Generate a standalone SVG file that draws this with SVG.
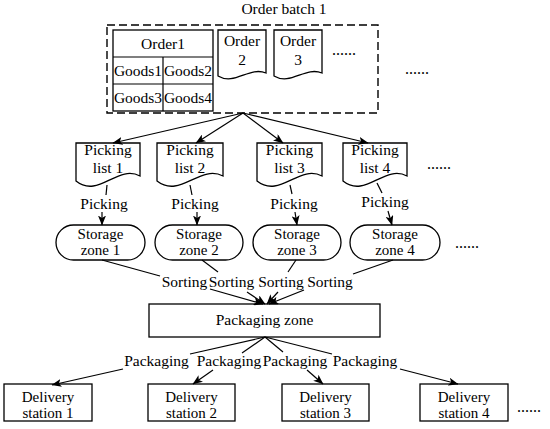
<svg xmlns="http://www.w3.org/2000/svg" width="550" height="429" viewBox="0 0 550 429">
<style>
  text { font-family: "Liberation Serif", "Times New Roman", serif; font-size: 15.5px; fill: #000; text-anchor: middle; }
  .two { font-size: 15px; }
  .shape { fill: #fff; stroke: #000; stroke-width: 1.3; }
  .conn { fill: none; stroke: #000; stroke-width: 1.2; }
  .arr { fill: none; stroke: #000; stroke-width: 1.2; marker-end: url(#ah); }
  .dots { font-size: 16px; text-anchor: start; }
</style>
<defs>
  <marker id="ah" markerWidth="10" markerHeight="8" refX="9.5" refY="4" orient="auto" markerUnits="userSpaceOnUse">
    <path d="M0,0 L10,4 L0,8 L2.5,4 Z" fill="#000"/>
  </marker>
</defs>
<rect width="550" height="429" fill="#fff"/>

<g id="batch">
  <text x="284" y="14">Order batch 1</text>
  <rect x="107" y="25" width="271" height="88" fill="none" stroke="#000" stroke-width="1.4" stroke-dasharray="8,4"/>
  <text class="dots" x="405" y="74">......</text>
</g>

<g id="order1">
  <rect class="shape" x="113" y="30" width="100" height="81" stroke-width="1.6"/>
  <line class="conn" x1="113" y1="57" x2="213" y2="57"/>
  <line class="conn" x1="113" y1="84" x2="213" y2="84"/>
  <line class="conn" x1="163" y1="57" x2="163" y2="111"/>
  <text x="163" y="49">Order1</text>
  <text x="138" y="76">Goods1</text>
  <text x="188" y="76">Goods2</text>
  <text x="138" y="103">Goods3</text>
  <text x="188" y="103">Goods4</text>
</g>

<g id="order2">
  <path class="shape" d="M218,30 H266 V73 C249.2,66 234.8,86 218,76 Z"/>
  <text x="242" y="46">Order</text>
  <text x="242" y="65">2</text>
</g>
<g id="order3">
  <path class="shape" d="M274,30 H322 V73 C305.2,66 290.8,86 274,76 Z"/>
  <text x="298" y="46">Order</text>
  <text x="298" y="65">3</text>
  <text class="dots" x="332" y="55">......</text>
</g>

<g id="list1">
  <path class="shape" d="M76,143 H140 V176 C117.6,164 98.4,199 76,181 Z"/>
  <text x="108" y="155">Picking</text>
  <text x="108" y="173">list 1</text>
</g>
<g id="list2">
  <path class="shape" d="M157,143 H223 V176 C199.9,164 180.1,199 157,181 Z"/>
  <text x="190" y="155">Picking</text>
  <text x="190" y="173">list 2</text>
</g>
<g id="list3">
  <path class="shape" d="M257,143 H322 V176 C299.25,164 279.75,199 257,181 Z"/>
  <text x="289.5" y="155">Picking</text>
  <text x="289.5" y="173">list 3</text>
</g>
<g id="list4">
  <path class="shape" d="M343,143 H407 V176 C384.6,164 365.4,199 343,181 Z"/>
  <text x="375" y="155">Picking</text>
  <text x="375" y="173">list 4</text>
  <text class="dots" x="427" y="169">......</text>
</g>

<g id="zone1">
  <rect class="shape" x="56" y="225" width="89" height="35" rx="17.5"/>
  <text class="two" x="100.5" y="239">Storage</text>
  <text class="two" x="100.5" y="255">zone 1</text>
</g>
<g id="zone2">
  <rect class="shape" x="155" y="225" width="88" height="35" rx="17.5"/>
  <text class="two" x="199" y="239">Storage</text>
  <text class="two" x="199" y="255">zone 2</text>
</g>
<g id="zone3">
  <rect class="shape" x="253" y="225" width="88" height="35" rx="17.5"/>
  <text class="two" x="297" y="239">Storage</text>
  <text class="two" x="297" y="255">zone 3</text>
</g>
<g id="zone4">
  <rect class="shape" x="350" y="225" width="90" height="35" rx="17.5"/>
  <text class="two" x="395" y="239">Storage</text>
  <text class="two" x="395" y="255">zone 4</text>
  <text class="dots" x="455" y="248">......</text>
</g>

<g id="packaging">
  <rect class="shape" x="149" y="304" width="231" height="33"/>
  <text x="264.5" y="325">Packaging zone</text>
</g>

<g id="station1">
  <rect class="shape" x="4" y="384" width="88" height="37"/>
  <text class="two" x="48" y="402">Delivery</text>
  <text class="two" x="48" y="418">station 1</text>
</g>
<g id="station2">
  <rect class="shape" x="148" y="384" width="87" height="37"/>
  <text class="two" x="191.5" y="402">Delivery</text>
  <text class="two" x="191.5" y="418">station 2</text>
</g>
<g id="station3">
  <rect class="shape" x="282" y="384" width="87" height="37"/>
  <text class="two" x="325.5" y="402">Delivery</text>
  <text class="two" x="325.5" y="418">station 3</text>
</g>
<g id="station4">
  <rect class="shape" x="420" y="384" width="88" height="37"/>
  <text class="two" x="464" y="402">Delivery</text>
  <text class="two" x="464" y="418">station 4</text>
  <text class="dots" x="517" y="412">......</text>
</g>

<g id="connectors">
  <line class="arr" x1="243" y1="113" x2="113" y2="143"/>
  <line class="arr" x1="243" y1="113" x2="196" y2="143"/>
  <line class="arr" x1="243" y1="113" x2="283" y2="143"/>
  <line class="arr" x1="243" y1="113" x2="368" y2="143"/>

  <line class="conn" x1="107" y1="185" x2="106" y2="195"/>
  <line class="conn" x1="190" y1="185" x2="192" y2="195"/>
  <line class="conn" x1="290" y1="185" x2="292" y2="194"/>
  <line class="conn" x1="377" y1="183" x2="382" y2="193"/>
  <text x="104" y="209">Picking</text>
  <text x="195" y="209">Picking</text>
  <text x="294" y="209">Picking</text>
  <text x="385" y="207">Picking</text>
  <line class="arr" x1="102" y1="212" x2="102" y2="225"/>
  <line class="arr" x1="197" y1="212" x2="197" y2="225"/>
  <line class="arr" x1="295" y1="212" x2="297" y2="225"/>
  <line class="arr" x1="388" y1="211" x2="392" y2="225"/>

  <line class="conn" x1="102" y1="260" x2="160" y2="276"/>
  <line class="conn" x1="202" y1="260" x2="218" y2="272"/>
  <line class="conn" x1="296" y1="260" x2="288" y2="272"/>
  <line class="conn" x1="393" y1="260" x2="353" y2="274"/>
  <text x="184.5" y="287">Sorting</text>
  <text x="231.5" y="287">Sorting</text>
  <text x="281" y="287">Sorting</text>
  <text x="330" y="287">Sorting</text>
  <line class="arr" x1="210" y1="289" x2="263" y2="304"/>
  <line class="arr" x1="247" y1="292" x2="265" y2="304"/>
  <line class="arr" x1="278" y1="292" x2="267" y2="304"/>
  <line class="arr" x1="304" y1="290" x2="269" y2="304"/>

  <line class="conn" x1="265" y1="337" x2="190" y2="354"/>
  <line class="conn" x1="265" y1="337" x2="242" y2="353"/>
  <line class="conn" x1="265" y1="337" x2="283" y2="352"/>
  <line class="conn" x1="265" y1="337" x2="332" y2="354"/>
  <text x="156.5" y="366">Packaging</text>
  <text x="229" y="366">Packaging</text>
  <text x="295" y="366">Packaging</text>
  <text x="365" y="366">Packaging</text>
  <line class="arr" x1="123" y1="369" x2="52" y2="385"/>
  <line class="arr" x1="213" y1="370" x2="193" y2="384"/>
  <line class="arr" x1="307" y1="370" x2="323" y2="384"/>
  <line class="arr" x1="400" y1="369" x2="458" y2="384"/>
</g>
</svg>
